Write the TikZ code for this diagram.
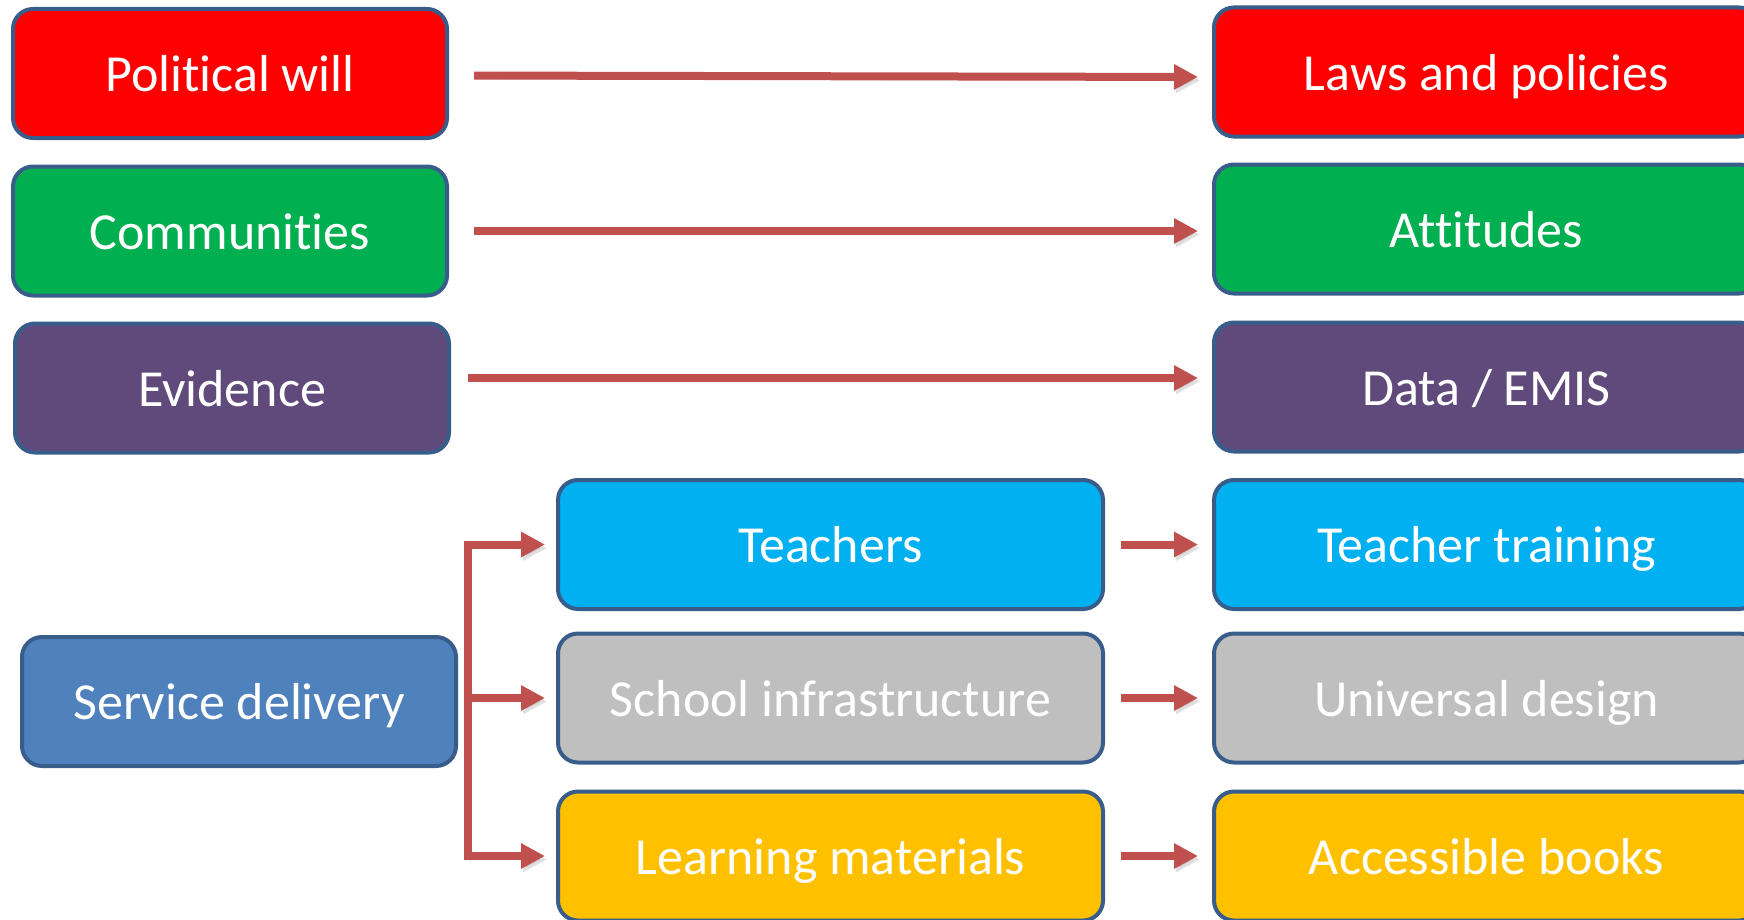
\documentclass[tikz,border=0pt]{standalone}
\usepackage{fontspec}
\setmainfont{Carlito}[Ligatures=NoCommon]
\usetikzlibrary{arrows.meta,calc}
\definecolor{cRed}{HTML}{FF0000}
\definecolor{cGreen}{HTML}{00B050}
\definecolor{cPurple}{HTML}{604A7B}
\definecolor{cCyan}{HTML}{00B0F0}
\definecolor{cGray}{HTML}{BFBFBF}
\definecolor{cGold}{HTML}{FFC000}
\definecolor{cBlue}{HTML}{4F81BD}
\definecolor{cBorder}{HTML}{385D8A}
\definecolor{cArrow}{HTML}{C0504D}
\tikzset{
  box/.style={draw=cBorder, line width=2pt, rounded corners=10pt, text=white,
    font=\fontsize{26pt}{30pt}\selectfont, inner sep=0pt,
    text height=23.4pt, text depth=5.2pt},
  lbox/.style={box, minimum width=217pt, minimum height=64.5pt},
  wbox/.style={box, minimum width=272.5pt, minimum height=64.5pt},
  shd/.style={preaction={draw=black!35, opacity=0.35, transform canvas={shift={(1pt,-1.75pt)}}}},
  arr/.style={shd, draw=cArrow, line width=4pt, -{Triangle[length=12pt,width=12pt]}},
  brk/.style={shd, draw=cArrow, line width=4pt}
}
\begin{document}
\begin{tikzpicture}[x=0.5pt,y=-0.5pt]
\useasboundingbox (0,0) rectangle (1744,920);
\clip (0,0) rectangle (1744,920);
% left column
\node[lbox, fill=cRed] (pw) at (230,73.5) {Political will};
\node[lbox, fill=cGreen] (com) at (230,231) {Communities};
\node[lbox, fill=cPurple] (evi) at (232,388) {Evidence};
\node[lbox, fill=cBlue] (sd) at (239,701.5) {Service delivery};
% middle column
\node[wbox, fill=cCyan] (tea) at (830.5,544.5) {Teachers};
\node[wbox, fill=cGray] (sch) at (830.5,698) {School infrastructure};
\node[wbox, fill=cGold] (lrn) at (830.5,856) {Learning materials};
% right column
\node[wbox, fill=cRed] (law) at (1486.5,72) {Laws and policies};
\node[wbox, fill=cGreen] (att) at (1486.5,229) {Attitudes};
\node[wbox, fill=cPurple] (dat) at (1486.5,387) {Data / EMIS};
\node[wbox, fill=cCyan] (tt) at (1486.5,544.5) {Teacher training};
\node[wbox, fill=cGray] (ud) at (1486.5,698) {Universal design};
\node[wbox, fill=cGold] (ab) at (1486.5,856) {Accessible books};
% top arrows
\draw[arr, shorten <=12.5pt, shorten >=7pt] ($(pw.east)+(0,2)$) -- ($(law.west)+(0,5)$);
\draw[arr, shorten <=12.5pt, shorten >=7pt] (com.east) -- (com.east -| att.west);
\draw[arr, shorten <=8.5pt, shorten >=7pt] ($(evi.east)+(0,-10)$) -- ($(dat.west)+(0,-9)$);
% bracket
\coordinate (br) at ($(sd.east)+(10,0)$);
\draw[brk] ($(br |- tea)+(0,-2)$) -- ($(br |- lrn)+(0,2)$);
\draw[arr, shorten >=5.5pt] ($(br |- tea)+(-4,0)$) -- (tea.west);
\draw[arr, shorten >=5.5pt] (br |- sch) -- (sch.west);
\draw[arr, shorten >=5.5pt] ($(br |- lrn)+(-4,0)$) -- (lrn.west);
% middle to right arrows
\draw[arr, shorten <=8pt, shorten >=7pt] (tea.east) -- (tt.west);
\draw[arr, shorten <=8pt, shorten >=7pt] (sch.east) -- (ud.west);
\draw[arr, shorten <=8pt, shorten >=7pt] (lrn.east) -- (ab.west);
\end{tikzpicture}
\end{document}
